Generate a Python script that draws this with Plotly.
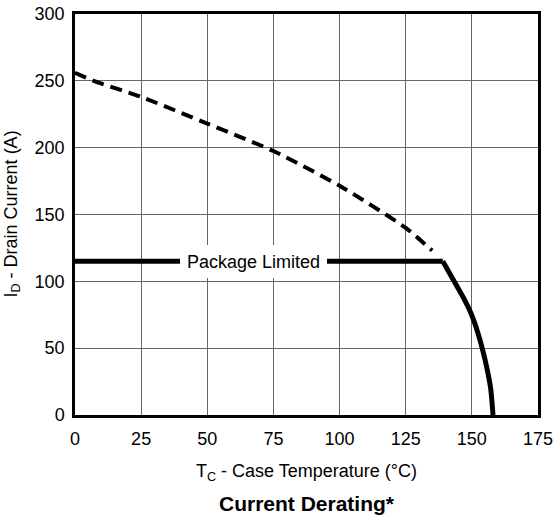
import plotly.graph_objects as go

# Dashed curve (thermal limit)
temp_dash = [0, 7, 25, 50, 75, 100, 125, 135]
curr_dash = [256, 250, 238, 218, 197.5, 171.5, 140, 123]

# Solid: package limited plateau
temp_pkg = [0, 139]
curr_pkg = [115, 115]

# Solid: derating curve
temp_der = [139, 143.3, 147, 149.9, 152.2, 153.9, 155.7, 157.1, 158]
curr_der = [115, 100, 87, 75, 62, 50, 35, 20, 0]

x_ticks = [0, 25, 50, 75, 100, 125, 150, 175]
y_ticks = [0, 50, 100, 150, 200, 250, 300]

FONT = "Liberation Sans, Arial, sans-serif"

fig = go.Figure()
fig.add_trace(go.Scatter(x=temp_dash, y=curr_dash, mode="lines",
                         line=dict(color="black", width=4, dash="12px,7px", shape="spline", smoothing=0.6),
                         showlegend=False, hoverinfo="skip"))
fig.add_trace(go.Scatter(x=temp_pkg, y=curr_pkg, mode="lines",
                         line=dict(color="black", width=5),
                         showlegend=False, hoverinfo="skip"))
fig.add_trace(go.Scatter(x=temp_der, y=curr_der, mode="lines",
                         line=dict(color="black", width=5, shape="spline", smoothing=0.6),
                         showlegend=False, hoverinfo="skip"))

fig.add_annotation(x=67.5, y=115, xref="x", yref="y", text="Package Limited",
                   showarrow=False, font=dict(family=FONT, size=18, color="black"),
                   bgcolor="white", width=141, height=27, borderpad=3, borderwidth=0)

fig.add_annotation(x=0.5, y=-0.143, xref="paper", yref="paper",
                   text="T<sub>C</sub> - Case Temperature (°C)", showarrow=False,
                   font=dict(family=FONT, size=18, color="black"), yanchor="middle")
fig.add_annotation(x=0.5, y=-0.221, xref="paper", yref="paper",
                   text="<b>Current Derating*</b>", showarrow=False,
                   font=dict(family=FONT, size=21, color="black"), yanchor="middle")
fig.add_annotation(x=-0.136, y=0.5, xref="paper", yref="paper",
                   text="I<sub>D</sub> - Drain Current (A)", showarrow=False, textangle=-90,
                   font=dict(family=FONT, size=18, color="black"), xanchor="center")

fig.update_xaxes(range=[0, 175], tickvals=x_ticks, showgrid=True, gridcolor="#666666", gridwidth=1,
                 showline=True, linecolor="black", linewidth=2.5, mirror=True, ticks="",
                 zeroline=False, tickfont=dict(family=FONT, size=18, color="black"),
                 ticklabelstandoff=6, automargin=False)
fig.update_yaxes(range=[0, 300], tickvals=y_ticks, showgrid=True, gridcolor="#666666", gridwidth=1,
                 showline=True, linecolor="black", linewidth=2.5, mirror=True, ticks="",
                 zeroline=False, tickfont=dict(family=FONT, size=18, color="black"),
                 ticklabelstandoff=4, automargin=False)

fig.update_layout(width=555, height=521, margin=dict(l=75, r=17, t=14, b=106, pad=0),
                  plot_bgcolor="white", paper_bgcolor="white")

fig.write_html("out.html", config={"displayModeBar": False},
               post_script="document.body.style.margin='0';document.body.style.overflow='hidden';")
